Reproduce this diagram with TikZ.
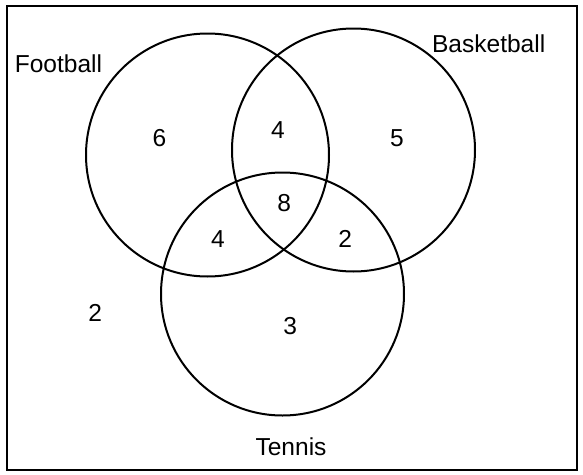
\documentclass[tikz,border=0pt]{standalone}
\usepackage{fontspec}
\setmainfont{Liberation Sans}
\usetikzlibrary{positioning}

\begin{document}
\begin{tikzpicture}[x=0.75pt,y=-0.75pt,
  setline/.style={line width=1.5pt},
  setlabel/.style={inner sep=0pt,font=\fontsize{18.4}{22}\selectfont}]
 \useasboundingbox (0,0) rectangle (583,475);
 \draw[setline] (7,6) rectangle (577,470);
 % the three sets
 \def\r{121.5}
 \foreach \cx / \cy in {207.5/155, 353.5/150, 282.5/294}
  {
    \draw[setline] (\cx,\cy) circle (\r);
  }
 \node[setlabel] (football) at (58.5,64) {Football};
 \node[setlabel] (basketball) at (488.7,44) {Basketball};
 \node[setlabel] (tennis) at (291,446.7) {Tennis};
 % counts in each region
 \foreach \x / \y / \n / \name in {159.5/138/6/fonly, 278/130.5/4/fb, 397/138/5/bonly,
   284.3/203.3/8/fbt, 218/238.8/4/ft, 345.3/238.8/2/bt, 290.3/326.2/3/tonly, 95.3/313.3/2/none}
  {
    \node[setlabel] (\name) at (\x,\y) {\n};
  }
\end{tikzpicture}
\end{document}
